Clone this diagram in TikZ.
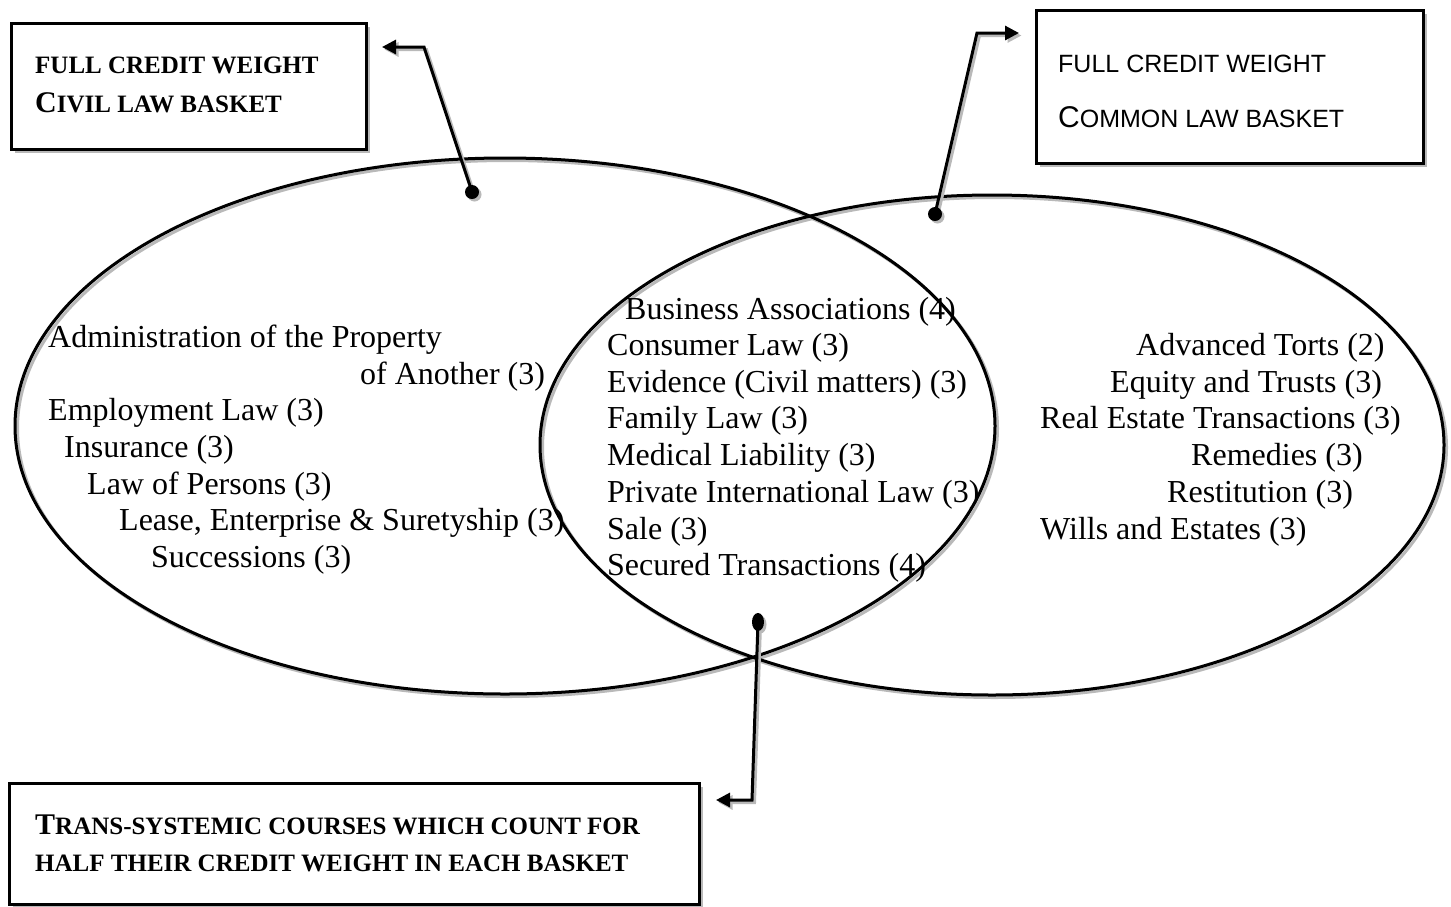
\documentclass[tikz,border=0pt]{standalone}
\usepackage{fontspec}
\setmainfont{Liberation Serif}
\newfontfamily\arialf{Liberation Sans}
\usetikzlibrary{arrows.meta,shapes.geometric,shadows}
\newcommand\bigsm[2]{{\fontsize{30}{30}\selectfont #1}{\fontsize{25}{25}\selectfont #2}}
\begin{document}
\begin{tikzpicture}[x=1pt,y=-1pt,
  ring/.style={ellipse, draw, line width=3pt, inner sep=0pt},
  shadowcol/.style={draw=gray!55},
  lbl/.style={anchor=base west, inner sep=0pt, font=\fontsize{32}{36}\selectfont},
  boxlbl/.style={anchor=base west, inner sep=0pt},
  box/.style={draw, line width=3pt, fill=white, anchor=north west, inner sep=0pt,
    drop shadow={shadow xshift=3pt, shadow yshift=-3pt, fill=gray!55, opacity=1}},
  conn/.style={line width=3pt, line join=miter, -{Triangle[length=14pt,width=14pt]}},
  cshadow/.style={draw=gray!55, transform canvas={shift={(2.5pt,-2.5pt)}}},
  dshadow/.style={fill=gray!55, transform canvas={shift={(2.5pt,-2.5pt)}}},
]
\useasboundingbox (0,0) rectangle (1451,906);

% ellipse shadows
\node[ring, shadowcol, minimum width=980pt, minimum height=536pt] (Ls) at (507.5,428.5) {};
\node[ring, shadowcol, minimum width=904pt, minimum height=500pt] (Rs) at (994.5,447.5) {};
% ellipses
\node[ring, minimum width=980pt, minimum height=536pt] (L) at (505,426) {};
\node[ring, minimum width=904pt, minimum height=500pt] (R) at (992,445) {};

% boxes
\node[box, minimum width=355pt, minimum height=126pt] (cb) at (10,22) {};
\node[box, minimum width=387pt, minimum height=153pt] (mb) at (1035,9) {};
\node[box, minimum width=690pt, minimum height=121pt] (tb) at (8,782) {};

% box texts
\node[boxlbl, font=\bfseries] (cb1) at (35,73) {\bigsm{}{FULL CREDIT WEIGHT}};
\node[boxlbl, font=\bfseries] (cb2) at (35,112) {\bigsm{C}{IVIL LAW BASKET}};
\node[boxlbl, font=\arialf] (mb1) at (1058,72) {\bigsm{}{FULL CREDIT WEIGHT}};
\node[boxlbl, font=\arialf] (mb2) at (1058,127) {\bigsm{C}{OMMON LAW BASKET}};
\node[boxlbl, font=\bfseries] (tb1) at (35,834) {\bigsm{T}{RANS-SYSTEMIC COURSES WHICH COUNT FOR}};
\node[boxlbl, font=\bfseries] (tb2) at (35,871) {\bigsm{}{HALF THEIR CREDIT WEIGHT IN EACH BASKET}};

% connector points
\coordinate (d1) at (472,192);
\coordinate (k1) at (424,47);
\coordinate (t1) at (382,47);
\coordinate (d2) at (935,214);
\coordinate (k2) at (977,33);
\coordinate (t2) at (1019,33);
\coordinate (d3) at (758,622);
\coordinate (k3) at (752,800);
\coordinate (t3) at (716,800);

% connector shadows
\draw[conn, cshadow] (d1) -- (k1) -- (t1);
\draw[conn, cshadow] (d2) -- (k2) -- (t2);
\draw[conn, cshadow] (d3) -- (k3) -- (t3);
\fill[dshadow] (d1) circle[radius=7pt];
\fill[dshadow] (d2) circle[radius=7pt];
\fill[dshadow] (d3) ellipse[x radius=6pt, y radius=9pt];
% connectors
\draw[conn] (d1) -- (k1) -- (t1);
\draw[conn] (d2) -- (k2) -- (t2);
\draw[conn] (d3) -- (k3) -- (t3);
\fill (d1) circle[radius=7pt];
\fill (d2) circle[radius=7pt];
\fill (d3) ellipse[x radius=6pt, y radius=9pt];

% civil law courses
\node[lbl] (c1) at (48,347) {Administration of the Property};
\node[lbl] (c2) at (360,384) {of Another (3)};
\node[lbl] (c3) at (48,420) {Employment Law (3)};
\node[lbl] (c4) at (64,457) {Insurance (3)};
\node[lbl] (c5) at (87,494) {Law of Persons (3)};
\node[lbl] (c6) at (119,530) {Lease, Enterprise \& Suretyship (3)};
\node[lbl] (c7) at (151,567) {Successions (3)};

% trans-systemic courses
\node[lbl] (m1) at (625,319) {Business Associations (4)};
\node[lbl] (m2) at (607,355) {Consumer Law (3)};
\node[lbl] (m3) at (607,392) {Evidence (Civil matters) (3)};
\node[lbl] (m4) at (607,428) {Family Law (3)};
\node[lbl] (m5) at (607,465) {Medical Liability (3)};
\node[lbl] (m6) at (607,502) {Private International Law (3)};
\node[lbl] (m7) at (607,539) {Sale (3)};
\node[lbl] (m8) at (607,575) {Secured Transactions (4)};

% common law courses
\node[lbl] (r1) at (1136,355) {Advanced Torts (2)};
\node[lbl] (r2) at (1110,392) {Equity and Trusts (3)};
\node[lbl] (r3) at (1040,428) {Real Estate Transactions (3)};
\node[lbl] (r4) at (1191,465) {Remedies (3)};
\node[lbl] (r5) at (1167,502) {Restitution (3)};
\node[lbl] (r6) at (1040,539) {Wills and Estates (3)};
\end{tikzpicture}
\end{document}
